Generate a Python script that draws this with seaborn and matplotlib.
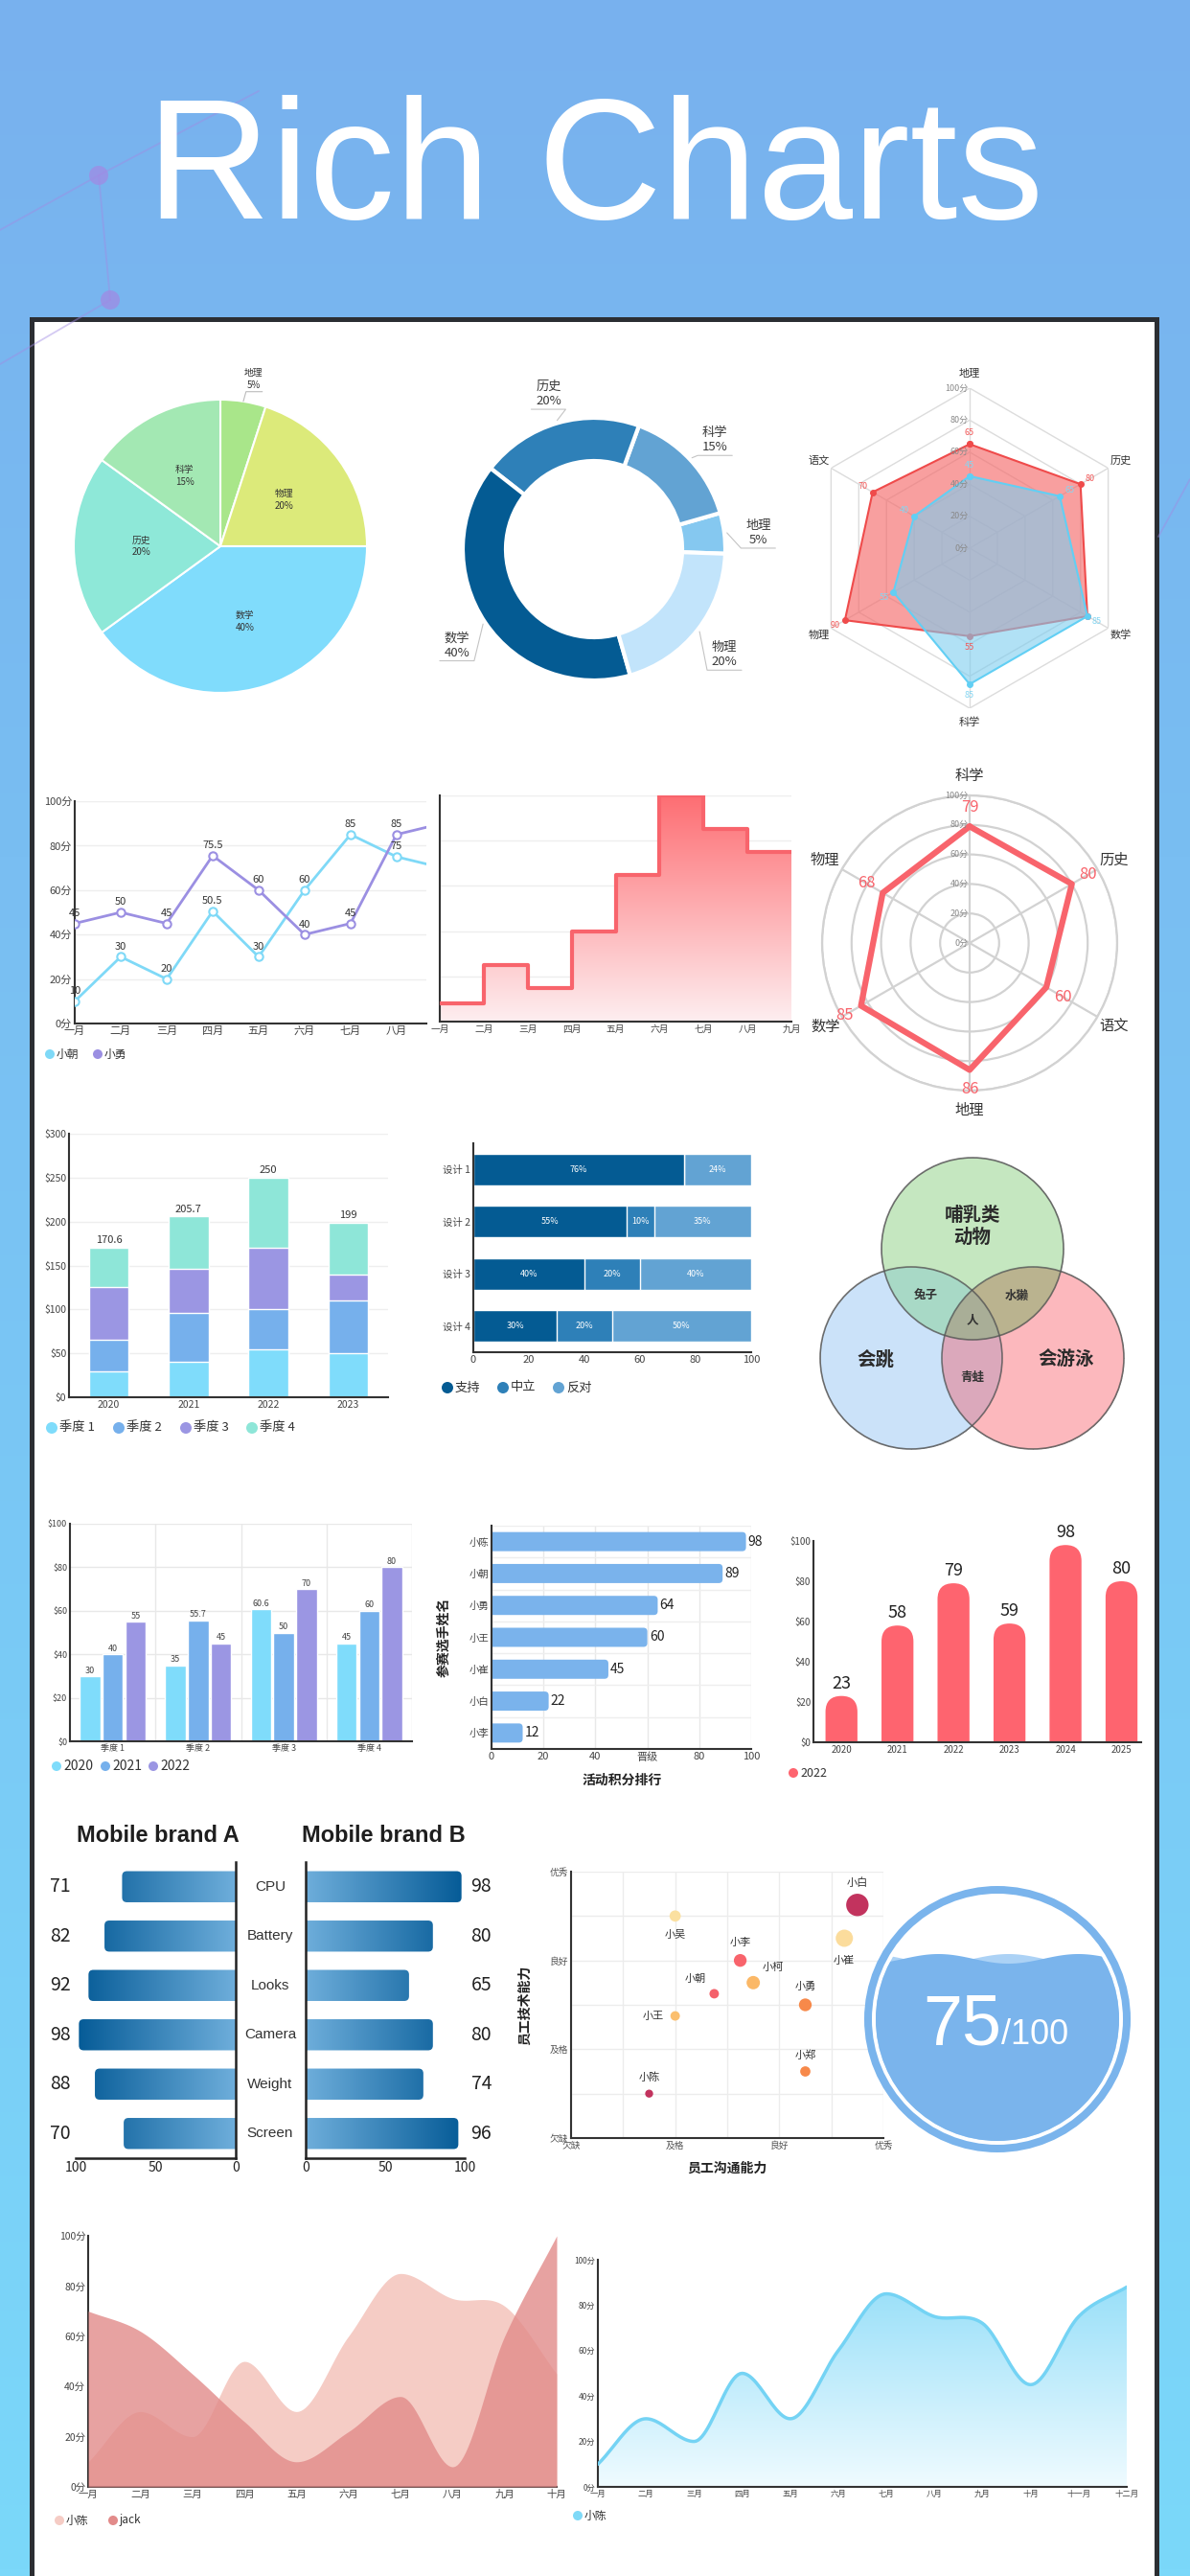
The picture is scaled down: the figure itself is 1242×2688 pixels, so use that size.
import numpy as np
import pandas as pd
import seaborn as sns
import matplotlib.pyplot as plt
from matplotlib.patches import Circle, Rectangle, FancyBboxPatch, Polygon
from matplotlib.colors import LinearSegmentedColormap, to_rgba
from matplotlib import transforms

# ---------------- data ----------------
pie_subjects = ["地理", "物理", "数学", "历史", "科学"]
pie_share = [5, 20, 40, 20, 15]

donut_subjects = ["地理", "科学", "历史", "数学", "物理"]
donut_share = [5, 15, 20, 40, 20]

radar_subjects = ["地理", "历史", "数学", "科学", "物理", "语文"]
radar_red = [65, 80, 85, 55, 90, 70]
radar_blue = [45, 65, 85, 85, 55, 40]

months = ["一月", "二月", "三月", "四月", "五月", "六月", "七月", "八月", "九月", "十月", "十一月", "十二月"]
score_chao = [10, 30, 20, 50.5, 30, 60, 85, 75, 70]
score_yong = [45, 50, 45, 75.5, 60, 40, 45, 85, 90]

step_scores = [8, 25, 15, 40, 65, 100, 85, 75, 75]

radar2_subjects = ["科学", "历史", "语文", "地理", "数学", "物理"]
radar2_scores = [79, 80, 60, 86, 85, 68]

years = ["2020", "2021", "2022", "2023"]
quarters = ["季度 1", "季度 2", "季度 3", "季度 4"]
sales_2020 = [30, 35, 60.6, 45]
sales_2021 = [40, 55.7, 50, 60]
sales_2022 = [55, 45, 70, 80]
sales_2023 = [50, 60, 30, 59]

designs = ["设计 1", "设计 2", "设计 3", "设计 4"]
vote_for = [76, 55, 40, 30]
vote_neutral = [0, 10, 20, 20]
vote_against = [24, 35, 40, 50]

players = ["小陈", "小朝", "小勇", "小王", "小崔", "小白", "小李"]
player_points = [98, 89, 64, 60, 45, 22, 12]
point_ticks = ["0", "20", "40", "晋级", "80", "100"]

bar_years = ["2020", "2021", "2022", "2023", "2024", "2025"]
bar_values = [23, 58, 79, 59, 98, 80]

features = ["CPU", "Battery", "Looks", "Camera", "Weight", "Screen"]
brand_a = [71, 82, 92, 98, 88, 70]
brand_b = [98, 80, 65, 80, 74, 96]

staff = ["小白", "小吴", "小崔", "小李", "小柯", "小朝", "小勇", "小王", "小郑", "小陈"]
staff_comm = [5.5, 2.0, 5.25, 3.25, 3.5, 2.75, 4.5, 2.0, 4.5, 1.5]
staff_tech = [5.25, 5.0, 4.5, 4.0, 3.5, 3.25, 3.0, 2.75, 1.5, 1.0]
staff_weight = [100, 28, 61, 35, 38, 21, 35, 21, 24, 16]
grades = ["欠缺", "及格", "良好", "优秀"]

gauge_value = 75
gauge_max = 100

area_chen = [10, 30, 20, 50, 30, 60, 85, 75, 72, 45, 75, 88]
area_jack = [70, 62, 45, 26, 10, 22, 36, 8, 60, 100]

# ---------------- style ----------------
sns.set_theme(style="white")
plt.rcParams["font.family"] = ["Noto Sans CJK SC", "DejaVu Sans"]
plt.rcParams["axes.unicode_minus"] = False

DARK = "#333333"
CYAN = "#7fd9f7"
PURPLE = "#9b8fe2"
RED = "#f8646c"
Q_COLORS = ["#7fdcfb", "#76b0ec", "#9b96e3", "#8ee6d8"]
VOTE_COLORS = ["#045b93", "#2e80b8", "#62a3d3"]

W, H = 1242, 2688
fig = plt.figure(figsize=(W / 100, H / 100), dpi=100)


def box(x0, y0, x1, y1, **kw):
    return fig.add_axes([x0 / W, 1 - y1 / H, (x1 - x0) / W, (y1 - y0) / H], **kw)


def style(ax, fs=8, spines=("left", "bottom"), color="#444444"):
    for s in ["left", "right", "top", "bottom"]:
        ax.spines[s].set_visible(s in spines)
        ax.spines[s].set_color(DARK)
        ax.spines[s].set_linewidth(1.5)
    ax.tick_params(length=0, labelsize=fs, labelcolor=color, pad=2)
    ax.set_facecolor("none")
    ax.set_xlabel("")
    ax.set_ylabel("")


def gradient(ax, clip, extent, c_low, c_high, horizontal=False, z=1):
    cmap = LinearSegmentedColormap.from_list("g", [c_low, c_high])
    g = np.linspace(0, 1, 256)
    g = g.reshape(1, -1) if horizontal else g.reshape(-1, 1)
    im = ax.imshow(g, cmap=cmap, extent=extent, origin="lower", aspect="auto",
                   zorder=z, interpolation="bilinear")
    im.set_clip_path(clip)
    return im


def rounded(ax, x, y, w, h, r_px, px_x, px_y, **kw):
    p = FancyBboxPatch((x, y), w, h, boxstyle=f"round,pad=0,rounding_size={r_px / px_x}",
                       mutation_aspect=px_x / px_y, **kw)
    ax.add_patch(p)
    return p


def smooth(xs, ys, n=24):
    xs = np.asarray(xs, float)
    ys = np.asarray(ys, float)
    d = np.gradient(ys, xs)
    for i in range(1, len(ys) - 1):
        if (ys[i] - ys[i - 1]) * (ys[i + 1] - ys[i]) <= 0:
            d[i] = 0
    ox, oy = [], []
    for i in range(len(xs) - 1):
        t = np.linspace(0, 1, n, endpoint=False)
        dx = xs[i + 1] - xs[i]
        h00 = 2 * t**3 - 3 * t**2 + 1
        h10 = t**3 - 2 * t**2 + t
        h01 = -2 * t**3 + 3 * t**2
        h11 = t**3 - t**2
        ox.append(xs[i] + t * dx)
        oy.append(h00 * ys[i] + h10 * dx * d[i] + h01 * ys[i + 1] + h11 * dx * d[i + 1])
    ox.append([xs[-1]])
    oy.append([ys[-1]])
    return np.concatenate(ox), np.concatenate(oy)


# ---------------- background ----------------
bg = fig.add_axes([0, 0, 1, 1])
top_c = np.array(to_rgba("#78b1ee")[:3])
bot_c = np.array(to_rgba("#7bd8fa")[:3])
t = np.linspace(0, 1, 400)[:, None]
bg.imshow((top_c * (1 - t) + bot_c * t)[:, None, :], extent=[0, W, H, 0], aspect="auto")
for (xa, ya), (xb, yb) in [((103, 183), (115, 313)), ((103, 183), (270, 95)),
                           ((103, 183), (0, 240)), ((115, 313), (0, 380)),
                           ((1209, 560), (1242, 500))]:
    bg.plot([xa, xb], [ya, yb], color="#a08be4", lw=1.3, alpha=0.45)
bg.add_patch(Circle((103, 183), 10, color="#a08be4", alpha=0.75, lw=0))
bg.add_patch(Circle((115, 313), 10, color="#a08be4", alpha=0.75, lw=0))
bg.add_patch(Rectangle((33, 333), 1174, 2420, facecolor="white", edgecolor="#2b2e33", lw=3.6))
bg.text(621, 228, "Rich Charts", ha="center", va="baseline", fontsize=129, color="white",
        family=["Liberation Sans", "DejaVu Sans"])


def legend_dots(items, y, r=5, fs=8.5):
    for x, label, color in items:
        bg.add_patch(Circle((x, y), r, color=color, lw=0))
        bg.text(x + r + 2, y, label, fontsize=fs, va="center", ha="left", color="#333333")


# ---------------- pie ----------------
ax = box(30, 370, 430, 770)
R = 153 / 200
wedges, _ = ax.pie(pie_share, colors=["#a9e68a", "#dcea7a", "#80dcfc", "#8ee8d8", "#a3e8b3"],
                   startangle=90, counterclock=False, radius=R,
                   wedgeprops=dict(edgecolor="white", linewidth=1.5))
for w, name, v in zip(wedges, pie_subjects, pie_share):
    a = np.deg2rad((w.theta1 + w.theta2) / 2)
    if v < 10:
        lx, ly = 1.16 * R * np.cos(a), 1.16 * R * np.sin(a)
        ax.plot([R * np.cos(a), lx - 0.005, lx + 0.08], [R * np.sin(a), ly - 0.07, ly - 0.07],
                color="#bbbbbb", lw=0.8)
        ax.text(lx + 0.035, ly - 0.06, f"{name}\n{v}%", ha="center", va="bottom", fontsize=7,
                color="#333333", linespacing=1.3)
    else:
        ax.text(0.54 * R * np.cos(a), 0.54 * R * np.sin(a), f"{name}\n{v}%", ha="center",
                va="center", fontsize=7, color="#333333", linespacing=1.3)
ax.set_xlim(-1, 1)
ax.set_ylim(-1, 1)

# ---------------- donut ----------------
ax = box(420, 373, 820, 773)
R = 137 / 200
wedges, _ = ax.pie(donut_share, colors=["#85c8f0", "#62a3d3", "#2e80b8", "#045b93", "#c2e4fb"],
                   startangle=-2, counterclock=True, radius=R,
                   wedgeprops=dict(width=45 / 200, edgecolor="white", linewidth=3))
for w, name, v in zip(wedges, donut_subjects, donut_share):
    a = np.deg2rad((w.theta1 + w.theta2) / 2)
    s = 1 if np.cos(a) >= 0 else -1
    lx, ly = 1.26 * R * np.cos(a), 1.26 * R * np.sin(a)
    ax.plot([1.02 * R * np.cos(a), lx - s * 0.09, lx + s * 0.09], [1.02 * R * np.sin(a), ly - 0.1, ly - 0.1],
            color="#c4c4c4", lw=0.8)
    ax.text(lx, ly - 0.09, f"{name}\n{v}%", ha="center", va="bottom", fontsize=9.5,
            color="#3a3a3a", linespacing=1.2)
ax.set_xlim(-1, 1)
ax.set_ylim(-1, 1)

# ---------------- radar (hexagon) ----------------
ang = np.deg2rad(np.arange(6) * 60.0)
loop = np.r_[ang, ang[:1]]
ax = box(1012 - 167, 572 - 167, 1012 + 167, 572 + 167, projection="polar")
ax.set_theta_offset(np.pi / 2)
ax.set_theta_direction(-1)
for r in range(20, 101, 20):
    ax.plot(loop, [r] * 7, color="#dcdcdc", lw=1, zorder=1)
for a in ang:
    ax.plot([a, a], [0, 100], color="#dcdcdc", lw=1, zorder=1)
red_loop = np.r_[radar_red, radar_red[:1]]
blue_loop = np.r_[radar_blue, radar_blue[:1]]
ax.fill(loop, red_loop, color="#f56c6c", alpha=0.65, lw=0, zorder=2)
ax.plot(loop, red_loop, color="#ef4b4b", lw=1.5, marker="o", ms=4, zorder=3)
ax.fill(loop, blue_loop, color="#7dcdef", alpha=0.6, lw=0, zorder=4)
ax.plot(loop, blue_loop, color="#62cff4", lw=1.5, marker="o", ms=4, zorder=5)
for r in range(0, 101, 20):
    ax.annotate(f"{r}分", xy=(0, r), xytext=(-1, 0), textcoords="offset points", ha="right",
                va="center", fontsize=6.5, color="#8a8a8a", zorder=6)
for a, name, rv, bv in zip(ang, radar_subjects, radar_red, radar_blue):
    ax.text(a, 109, name, ha="center", va="center", fontsize=8, color="#333333")
    if rv != bv:
        ax.text(a, rv + 7, str(rv), ha="center", va="center", fontsize=6.5, color="#f25a5a", zorder=7)
    ax.text(a, bv + 7, str(bv), ha="center", va="center", fontsize=6.5, color="#86d6f2", zorder=7)
ax.set_ylim(0, 100)
ax.grid(False)
ax.set_xticks([])
ax.set_yticks([])
ax.spines["polar"].set_visible(False)
ax.set_facecolor("none")

# ---------------- line chart ----------------
ax = box(78, 836, 445, 1068)
xi = np.arange(len(score_chao))
for vals, c in [(score_chao, CYAN), (score_yong, PURPLE)]:
    sns.lineplot(x=xi, y=vals, ax=ax, color=c, lw=2, marker="o", markersize=6,
                 markerfacecolor="white", markeredgecolor=c, markeredgewidth=1.5, zorder=3)
    for x, v in zip(xi[:8], vals[:8]):
        ax.annotate(f"{v:g}", xy=(x, v), xytext=(0, 4), textcoords="offset points", ha="center",
                    va="bottom", fontsize=8, color="#333333", zorder=4)
ax.set_yticks(range(0, 101, 20))
ax.set_yticklabels([f"{v}分" for v in range(0, 101, 20)])
ax.set_xticks(range(8))
ax.set_xticklabels(months[:8])
ax.yaxis.grid(True, color="#eeeeee", lw=1)
style(ax, fs=8)
ax.set_xlim(0, 7.65)
ax.set_ylim(0, 100)
legend_dots([(52, "小朝", CYAN), (102, "小勇", PURPLE)], 1100, r=5, fs=8.5)

# ---------------- step chart ----------------
ax = box(459, 830, 826, 1066)
xs = np.arange(len(step_scores))
sns.lineplot(x=xs, y=step_scores, ax=ax, drawstyle="steps-post", color=RED, lw=3, zorder=3)
verts = [(0, 0)]
for i in range(len(step_scores) - 1):
    verts += [(i, step_scores[i]), (i + 1, step_scores[i])]
verts += [(len(step_scores) - 1, 0)]
clip = Polygon(verts, closed=True, fc="none", ec="none")
ax.add_patch(clip)
gradient(ax, clip, [0, 8, 0, 100], "#fdeef0", "#fe6e73", z=2)
ax.set_yticks(range(0, 101, 20))
ax.set_yticklabels([])
ax.set_xticks(range(9))
ax.set_xticklabels(months[:9])
ax.yaxis.grid(True, color="#eeeeee", lw=1)
style(ax, fs=7)
ax.set_xlim(0, 8)
ax.set_ylim(0, 100)

# ---------------- radar (circle) ----------------
ax = box(1012 - 154, 984 - 154, 1012 + 154, 984 + 154, projection="polar")
ax.set_theta_offset(np.pi / 2)
ax.set_theta_direction(-1)
vals_loop = np.r_[radar2_scores, radar2_scores[:1]]
ax.plot(loop, vals_loop, color=RED, lw=4.5, solid_joinstyle="round", zorder=3)
for a, name, v in zip(ang, radar2_subjects, radar2_scores):
    ax.text(a, 113, name, ha="center", va="center", fontsize=11, color="#333333")
    ax.text(a, v + 13, str(v), ha="center", va="center", fontsize=12, color=RED)
for r in range(0, 101, 20):
    ax.annotate(f"{r}分", xy=(0, r), xytext=(-1, 0), textcoords="offset points", ha="right",
                va="center", fontsize=6.5, color="#888888", zorder=5)
ax.set_xticks(ang)
ax.set_xticklabels([])
ax.set_yticks(range(20, 101, 20))
ax.set_yticklabels([])
ax.set_ylim(0, 100)
ax.grid(True, color="#d2d2d2", lw=1.6)
ax.spines["polar"].set_color("#d2d2d2")
ax.spines["polar"].set_linewidth(1.6)
ax.set_facecolor("none")

# ---------------- stacked bars ----------------
ax = box(72, 1183, 405, 1458)
sales = np.array([sales_2020, sales_2021, sales_2022, sales_2023])
cum = np.cumsum(sales, axis=1)
for q in reversed(range(4)):
    sns.barplot(x=years, y=cum[:, q], color=Q_COLORS[q], width=0.5, saturation=1,
                errorbar=None, ax=ax, zorder=2)
for i, tot in enumerate(cum[:, -1]):
    ax.text(i, tot + 3, f"{tot:g}", ha="center", va="bottom", fontsize=8, color="#333333")
ax.set_yticks(range(0, 301, 50))
ax.set_yticklabels([f"${v}" for v in range(0, 301, 50)])
ax.yaxis.grid(True, color="#eeeeee", lw=1)
ax.set_axisbelow(True)
style(ax, fs=7.5)
ax.set_xlim(-0.5, 3.5)
ax.set_ylim(0, 300)
legend_dots([(54, quarters[0], Q_COLORS[0]), (124, quarters[1], Q_COLORS[1]),
             (194, quarters[2], Q_COLORS[2]), (263, quarters[3], Q_COLORS[3])], 1490, r=6, fs=9.5)

# ---------------- 100% horizontal bars ----------------
ax = box(494, 1193, 784, 1411)
votes = np.array([vote_for, vote_neutral, vote_against])
cumv = np.cumsum(votes, axis=0)
for k in reversed(range(3)):
    sns.barplot(x=cumv[k], y=designs, orient="h", color=VOTE_COLORS[k], width=0.6, saturation=1,
                errorbar=None, ax=ax)
for i in range(len(designs)):
    start = 0
    for k in range(3):
        v = votes[k, i]
        if v > 0:
            ax.text(start + v / 2, i, f"{v}%", ha="center", va="center", fontsize=6.5, color="white")
        start += v
ax.set_xticks(range(0, 101, 20))
style(ax, fs=8)
ax.tick_params(axis="y", labelsize=7.5)
ax.set_xlim(0, 100)
ax.set_ylim(3.5, -0.5)
legend_dots([(467, "支持", VOTE_COLORS[0]), (525, "中立", VOTE_COLORS[1]), (583, "反对", VOTE_COLORS[2])],
            1448, r=6, fs=9.5)

# ---------------- venn ----------------
ax = box(840, 1190, 1190, 1520)
centers = {"G": (1015, 1303), "B": (951, 1417), "R": (1078, 1417)}
rad = 95
xx, yy = np.meshgrid(np.arange(840, 1190, 0.5), np.arange(1190, 1520, 0.5))
code = np.zeros(xx.shape, int)
for bit, key in [(1, "G"), (2, "B"), (4, "R")]:
    cx, cy = centers[key]
    code += bit * (((xx - cx) ** 2 + (yy - cy) ** 2) <= rad ** 2)
region_colors = {1: "#c5e7c0", 2: "#cbe2f9", 3: "#a8d9c6", 4: "#fdb9bd",
                 5: "#bab38f", 6: "#dba8bb", 7: "#a9ae97"}
img = np.zeros(code.shape + (4,))
for k, c in region_colors.items():
    img[code == k] = to_rgba(c)
ax.imshow(img, extent=[840, 1190, 1520, 1190], origin="upper", interpolation="antialiased")
for key in centers:
    ax.add_patch(Circle(centers[key], rad, fill=False, ec="#555555", lw=1.2, alpha=0.8))
ax.text(1015, 1280, "哺乳类\n动物", ha="center", va="center", fontsize=14, fontweight="bold",
        color="#2b2b2b", linespacing=1.25)
ax.text(914, 1419, "会跳", ha="center", va="center", fontsize=14, fontweight="bold", color="#2b2b2b")
ax.text(1113, 1419, "会游泳", ha="center", va="center", fontsize=14, fontweight="bold", color="#2b2b2b")
for (x, y), s in [((966, 1351), "兔子"), ((1061, 1352), "水獭"), ((1015, 1378), "人"), ((1015, 1438), "青蛙")]:
    ax.text(x, y, s, ha="center", va="center", fontsize=9, fontweight="bold", color="#333333")
ax.set_xlim(840, 1190)
ax.set_ylim(1520, 1190)
ax.axis("off")

# ---------------- grouped bars ----------------
ax = box(73, 1590, 430, 1817)
df = pd.DataFrame({"quarter": quarters * 3,
                   "year": ["2020"] * 4 + ["2021"] * 4 + ["2022"] * 4,
                   "value": sales_2020 + sales_2021 + sales_2022})
sns.barplot(data=df, x="quarter", y="value", hue="year", palette=Q_COLORS[:3], width=0.8, gap=0.1,
            saturation=1, errorbar=None, ax=ax, legend=False, zorder=2)
for cont, vals in zip(ax.containers, [sales_2020, sales_2021, sales_2022]):
    ax.bar_label(cont, labels=[f"{v:g}" for v in vals], padding=1, fontsize=6.5, color="#444444")
ax.set_yticks(range(0, 101, 20))
ax.set_yticklabels([f"${v}" for v in range(0, 101, 20)])
ax.set_xticks([0.5, 1.5, 2.5, 3.5], minor=True)
ax.yaxis.grid(True, color="#e8e8e8", lw=1)
ax.xaxis.grid(True, which="minor", color="#e8e8e8", lw=1)
ax.set_axisbelow(True)
style(ax, fs=6.5)
ax.tick_params(which="minor", length=0)
ax.set_xlim(-0.5, 3.5)
ax.set_ylim(0, 100)
legend_dots([(59, "2020", Q_COLORS[0]), (110, "2021", Q_COLORS[1]), (160, "2022", Q_COLORS[2])],
            1843, r=5, fs=10)

# ---------------- ranking bars ----------------
ax = box(513, 1592, 784, 1825)
sns.barplot(x=player_points, y=players, orient="h", color="#7ab3ec", width=0.6, saturation=1,
            errorbar=None, ax=ax)
px_x, px_y = 271 / 100, 233 / 7
for p in list(ax.patches):
    p.set_visible(False)
    rounded(ax, -5, p.get_y(), p.get_width() + 5, p.get_height(), 4, px_x, px_y,
            fc="#7ab3ec", ec="none", zorder=2)
for i, v in enumerate(player_points):
    ax.text(v + 0.8, i, str(v), ha="left", va="center", fontsize=10, color="#222222")
ax.set_xticks(range(0, 101, 20))
ax.set_xticklabels(point_ticks)
ax.set_yticks(np.arange(-0.5, 7, 1), minor=True)
ax.xaxis.grid(True, color="#e8e8e8", lw=1)
ax.yaxis.grid(True, which="minor", color="#eeeeee", lw=1)
ax.set_axisbelow(True)
style(ax, fs=8)
ax.tick_params(axis="y", labelsize=7.5)
ax.tick_params(which="minor", length=0)
ax.set_xlim(0, 100)
ax.set_ylim(6.5, -0.5)
bg.text(649, 1858, "活动积分排行", ha="center", va="center", fontsize=10, fontweight="bold", color="#222222")
bg.text(463, 1708, "参赛选手姓名", ha="center", va="center", fontsize=10, fontweight="bold",
        color="#222222", rotation=90)

# ---------------- rounded column bars ----------------
ax = box(849, 1608, 1191, 1818)
sns.barplot(x=bar_years, y=bar_values, color="#fe646f", width=0.57, saturation=1, errorbar=None, ax=ax)
px_x, px_y = 342 / 5.85, 210 / 100
for p in list(ax.patches):
    p.set_visible(False)
    rounded(ax, p.get_x(), -20, p.get_width(), p.get_height() + 20, p.get_width() / 2 * px_x,
            px_x, px_y, fc="#fe646f", ec="none", zorder=2)
for i, v in enumerate(bar_values):
    ax.text(i, v + 2, str(v), ha="center", va="bottom", fontsize=13, color="#222222")
ax.set_yticks(range(0, 101, 20))
ax.set_yticklabels([f"${v}" for v in range(0, 101, 20)])
style(ax, fs=7)
ax.set_xlim(-0.5, 5.35)
ax.set_ylim(0, 100)
legend_dots([(828, "2022", "#fe646f")], 1850, r=5, fs=9)

# ---------------- butterfly ----------------
axA = box(79, 1943, 246, 2252)
axB = box(319, 1943, 485, 2252)
px_x, px_y = 167 / 100, 309 / 6
for ax, vals, spines in [(axA, brand_a, ("right", "bottom")), (axB, brand_b, ("left", "bottom"))]:
    for i, v in enumerate(vals):
        bar = rounded(ax, -5, i - 0.315, v + 5, 0.63, 5, px_x, px_y, fc="none", ec="none")
        gradient(ax, bar, [0, 100, -0.5, 5.5], "#6eaedb", "#045a96", horizontal=True, z=2)
    ax.set_xticks([0, 50, 100])
    ax.set_yticks([])
    style(ax, fs=10, spines=spines, color="#222222")
    for s in spines:
        ax.spines[s].set_color("#222222")
        ax.spines[s].set_linewidth(1.8)
    ax.set_ylim(5.5, -0.5)
axA.set_xlim(100, 0)
axB.set_xlim(0, 100)
tB = transforms.blended_transform_factory(axB.transAxes, axB.transData)
tA = transforms.blended_transform_factory(axA.transAxes, axA.transData)
for i, name in enumerate(features):
    axB.text(-0.223, i, name, transform=tB, ha="center", va="center", fontsize=11, color="#333333",
             family=["Liberation Sans", "DejaVu Sans"])
    axA.text(-0.162, i, str(brand_a[i]), transform=tA, ha="left", va="center", fontsize=14, color="#222222")
    axB.text(1.169, i, str(brand_b[i]), transform=tB, ha="right", va="center", fontsize=14, color="#222222")
for x, s in [(165, "Mobile brand A"), (400, "Mobile brand B")]:
    bg.text(x, 1916, s, ha="center", va="center", fontsize=17, fontweight="bold", color="#1e1e1e",
            family=["Liberation Sans", "DejaVu Sans"])

# ---------------- bubble scatter ----------------
ax = box(596, 1953, 922, 2231)
staff_palette = {"小白": "#c2335e", "小吴": "#fbe0a0", "小崔": "#fbdc9c", "小李": "#f8646c",
                 "小柯": "#fbb867", "小朝": "#f4606a", "小勇": "#f7894a", "小王": "#fbbf6e",
                 "小郑": "#f7894a", "小陈": "#c2335e"}
sns.scatterplot(x=staff_comm, y=staff_tech, hue=staff, palette=staff_palette, size=staff_weight,
                sizes=(36, 283), legend=False, ax=ax, edgecolor="none", alpha=1, zorder=3)
label_offsets = {"小白": (0, 23), "小吴": (0, -20), "小崔": (0, -23), "小李": (0, 19), "小柯": (21, 16),
                 "小朝": (-20, 15), "小勇": (0, 19), "小王": (-23, 0), "小郑": (0, 17), "小陈": (0, 17)}
for name, x, y in zip(staff, staff_comm, staff_tech):
    ax.annotate(name, xy=(x, y), xytext=label_offsets[name], textcoords="offset pixels", ha="center",
                va="center", fontsize=8, color="#333333")
ax.set_xticks([0, 2, 4, 6])
ax.set_xticklabels(grades)
ax.set_yticks([0, 2, 4, 6])
ax.set_yticklabels(grades)
ax.set_xticks([1, 3, 5], minor=True)
ax.set_yticks([1, 3, 5], minor=True)
ax.grid(True, which="both", color="#ececec", lw=1)
ax.set_axisbelow(True)
style(ax, fs=7, color="#555555")
ax.tick_params(which="minor", length=0)
ax.set_xlim(0, 6)
ax.set_ylim(0, 6)
bg.text(759, 2263, "员工沟通能力", ha="center", va="center", fontsize=10, fontweight="bold", color="#222222")
bg.text(548, 2092, "员工技术能力", ha="center", va="center", fontsize=10, fontweight="bold",
        color="#222222", rotation=90)

# ---------------- liquid gauge ----------------
ax = box(1041 - 150, 2107 - 150, 1041 + 150, 2107 + 150)
ax.add_patch(Circle((0, 0), 139, color="#7ab4ec", lw=0))
ax.add_patch(Circle((0, 0), 131, color="white", lw=0))
inner = Circle((0, 0), 127, fc="none", ec="none")
ax.add_patch(inner)
level = -127 + 254 * gauge_value / gauge_max
xw = np.linspace(-130, 130, 400)
back = ax.fill_between(xw, -130, level + 5 * np.cos(2 * np.pi * (xw + 62 - 73) / 146), color="#acd2f5", lw=0)
front = ax.fill_between(xw, -130, level + 5 * np.cos(2 * np.pi * (xw + 62) / 146), color="#7ab4ec", lw=0)
back.set_clip_path(inner)
front.set_clip_path(inner)
ax.text(4, -26, str(gauge_value), ha="right", va="baseline", fontsize=53, color="white",
        family=["Liberation Sans", "DejaVu Sans"])
ax.text(4, -26, f"/{gauge_max}", ha="left", va="baseline", fontsize=26, color="white",
        family=["Liberation Sans", "DejaVu Sans"])
ax.set_xlim(-150, 150)
ax.set_ylim(-150, 150)
ax.axis("off")

# ---------------- area chart (two series) ----------------
ax = box(92, 2333, 581, 2595)
x10 = np.arange(len(area_jack))
sx, sy = smooth(x10, area_chen[:len(area_jack)])
ax.fill_between(sx, 0, sy, color="#f5ccc5", lw=0, zorder=2)
sx, sy = smooth(x10, area_jack)
ax.fill_between(sx, 0, sy, color="#e28b8a", alpha=0.8, lw=0, zorder=3)
ax.set_yticks(range(0, 101, 20))
ax.set_yticklabels([f"{v}分" for v in range(0, 101, 20)])
ax.set_xticks(x10)
ax.set_xticklabels(months[:len(area_jack)])
style(ax, fs=7.5)
ax.set_xlim(0, len(area_jack) - 1)
ax.set_ylim(0, 100)
legend_dots([(62, "小陈", "#f5ccc5"), (118, "jack", "#e28b8a")], 2630, r=5, fs=8.5)

# ---------------- area chart (gradient) ----------------
ax = box(624, 2358, 1176, 2595)
x12 = np.arange(len(area_chen))
sx, sy = smooth(x12, area_chen)
clip = Polygon(np.column_stack([np.r_[sx, sx[-1], sx[0]], np.r_[sy, 0, 0]]), closed=True, fc="none", ec="none")
ax.add_patch(clip)
gradient(ax, clip, [0, 11, 0, 100], "#effbff", "#8edcf8", z=2)
ax.plot(sx, sy, color="#74d3f4", lw=2.5, zorder=3)
ax.set_yticks(range(0, 101, 20))
ax.set_yticklabels([f"{v}分" for v in range(0, 101, 20)])
ax.set_xticks(x12)
ax.set_xticklabels(months)
style(ax, fs=6)
ax.set_xlim(0, 11)
ax.set_ylim(0, 100)
legend_dots([(603, "小陈", "#7fd9f7")], 2625, r=5, fs=8.5)

bg.set_xlim(0, W)
bg.set_ylim(H, 0)
bg.axis("off")

fig.savefig("out.png", dpi=100)
